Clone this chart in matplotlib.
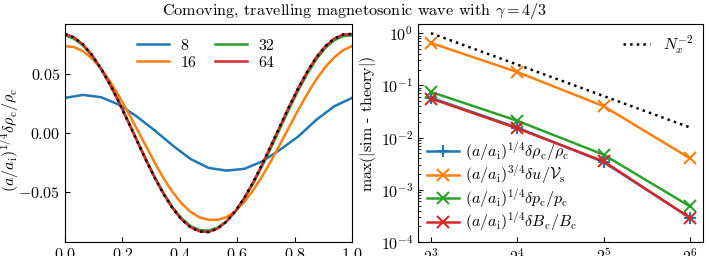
import matplotlib
matplotlib.use("Agg")
import matplotlib.pyplot as plt

plt.rcParams['font.family'] = 'serif'
plt.rcParams['font.serif'] = ['cmr10']
plt.rcParams['mathtext.fontset'] = 'cm'
plt.rcParams['axes.formatter.use_mathtext'] = True
plt.rcParams['font.size'] = 11.5
plt.rcParams['xtick.direction'] = 'in'
plt.rcParams['ytick.direction'] = 'in'

# --- left panel : profiles ---
x16 = [i / 16 for i in range(17)]
x32 = [i / 32 for i in range(33)]

prof_8 = [0.0297, 0.0322, 0.0303, 0.0240, 0.0140, 0.0022, -0.0105, -0.0220, -0.0295,
          -0.0318, -0.0303, -0.0240, -0.0140, -0.0030, 0.0110, 0.0225, 0.0297]
prof_16 = [0.0735, 0.0727, 0.0692, 0.0631, 0.0545, 0.0439, 0.0315, 0.0179, 0.0037,
           -0.0107, -0.0250, -0.0385, -0.0500, -0.0595, -0.0667, -0.0714, -0.0733,
           -0.0735, -0.0712, -0.0660, -0.0581, -0.0482, -0.0364, -0.0233, -0.0092,
           0.0052, 0.0194, 0.0329, 0.0451, 0.0556, 0.0638, 0.0700, 0.0735]
prof_32 = [0.0826, 0.0798, 0.0740, 0.0654, 0.0543, 0.0412, 0.0265, 0.0107, -0.0055,
           -0.0217, -0.0370, -0.0509, -0.0628, -0.0722, -0.0787, -0.0821, -0.0826,
           -0.0801, -0.0747, -0.0663, -0.0553, -0.0424, -0.0277, -0.0120, 0.0043,
           0.0205, 0.0359, 0.0499, 0.0621, 0.0717, 0.0784, 0.0819, 0.0826]
prof_64 = [0.0837, 0.0808, 0.0749, 0.0660, 0.0547, 0.0413, 0.0263, 0.0102, -0.0062,
           -0.0225, -0.0378, -0.0517, -0.0637, -0.0731, -0.0797, -0.0832, -0.0837,
           -0.0809, -0.0750, -0.0661, -0.0548, -0.0414, -0.0263, -0.0102, 0.0062,
           0.0225, 0.0378, 0.0517, 0.0637, 0.0731, 0.0797, 0.0832, 0.0837]
prof_theory = [0.0838, 0.0809, 0.0750, 0.0661, 0.0547, 0.0413, 0.0262, 0.0101, -0.0063,
               -0.0226, -0.0379, -0.0518, -0.0638, -0.0732, -0.0798, -0.0833, -0.0838,
               -0.0809, -0.0750, -0.0661, -0.0547, -0.0413, -0.0262, -0.0101, 0.0063,
               0.0226, 0.0379, 0.0518, 0.0638, 0.0732, 0.0798, 0.0833, 0.0838]

# --- right panel : convergence ---
N = [8, 16, 32, 64]
err_rho = [0.058, 0.0155, 0.0034, 0.00029]
err_u = [0.65, 0.18, 0.040, 0.0040]
err_p = [0.075, 0.021, 0.0047, 0.00048]
err_B = [0.056, 0.0150, 0.0035, 0.00029]
ref_N2 = [1.0, 0.25, 0.0625, 0.015625]

fig = plt.figure(figsize=(7.09, 2.56), dpi=100)
ax1 = fig.add_axes([65 / 709, 14 / 256, 287 / 709, 218 / 256])
ax2 = fig.add_axes([418 / 709, 14 / 256, 285 / 709, 218 / 256])

lw = 1.8
ax1.plot(x16, prof_8, color='C0', lw=lw, label='8')
ax1.plot(x32, prof_16, color='C1', lw=lw, label='16')
ax1.plot(x32, prof_32, color='C2', lw=lw, label='32')
ax1.plot(x32, prof_64, color='C3', lw=lw, label='64')
ax1.plot(x32, prof_theory, color='k', ls=':', lw=lw)
ax1.set_xlim(0, 1)
ax1.set_ylabel(r'$(a/a_\mathrm{i})^{1/4}\delta\rho_\mathrm{c}/\rho_\mathrm{c}$')
ax1.yaxis.set_label_coords(-0.155, 0.47)
ax1.legend(ncol=2, frameon=False, loc='upper center', handlelength=2.0,
           columnspacing=1.2, labelspacing=0.2, handletextpad=0.7,
           bbox_to_anchor=(0.49, 1.0))

ax2.plot(N, err_rho, color='C0', lw=lw, marker='+', ms=9, mew=1.5,
         label=r'$(a/a_\mathrm{i})^{1/4}\delta\rho_\mathrm{c}/\rho_\mathrm{c}$')
ax2.plot(N, err_u, color='C1', lw=lw, marker='x', ms=8, mew=1.5,
         label=r'$(a/a_\mathrm{i})^{3/4}\delta u/\mathcal{V}_\mathrm{s}$')
ax2.plot(N, err_p, color='C2', lw=lw, marker='x', ms=8, mew=1.5,
         label=r'$(a/a_\mathrm{i})^{1/4}\delta p_\mathrm{c}/p_\mathrm{c}$')
ax2.plot(N, err_B, color='C3', lw=lw, marker='x', ms=8, mew=1.5,
         label=r'$(a/a_\mathrm{i})^{1/4}\delta B_\mathrm{c}/B_\mathrm{c}$')
ref_line, = ax2.plot(N, ref_N2, color='k', ls=':', lw=lw)
ax2.set_xscale('log', base=2)
ax2.set_yscale('log')
ax2.set_ylim(1e-4, 1.5)
ax2.set_xticks(N)
ax2.minorticks_off()
ax2.yaxis.set_minor_locator(matplotlib.ticker.LogLocator(base=10, subs=range(2, 10), numticks=20))
ax2.set_ylabel(r'max($|$sim - theory$|$)')
ax2.yaxis.set_label_coords(-0.142, 0.54)
leg = ax2.legend(frameon=False, loc='lower left', handlelength=2.0, labelspacing=0.05,
                 handletextpad=0.4, borderaxespad=0.15)
ax2.add_artist(leg)
ax2.legend([ref_line], [r'$N_x^{-2}$'], frameon=False, loc='upper right',
           handlelength=1.7, handletextpad=0.8, borderaxespad=0.2)

fig.suptitle(r'Comoving, travelling magnetosonic wave with $\gamma = 4/3$', y=0.995, fontsize=11.7)

fig.savefig('out.png', dpi=100)
